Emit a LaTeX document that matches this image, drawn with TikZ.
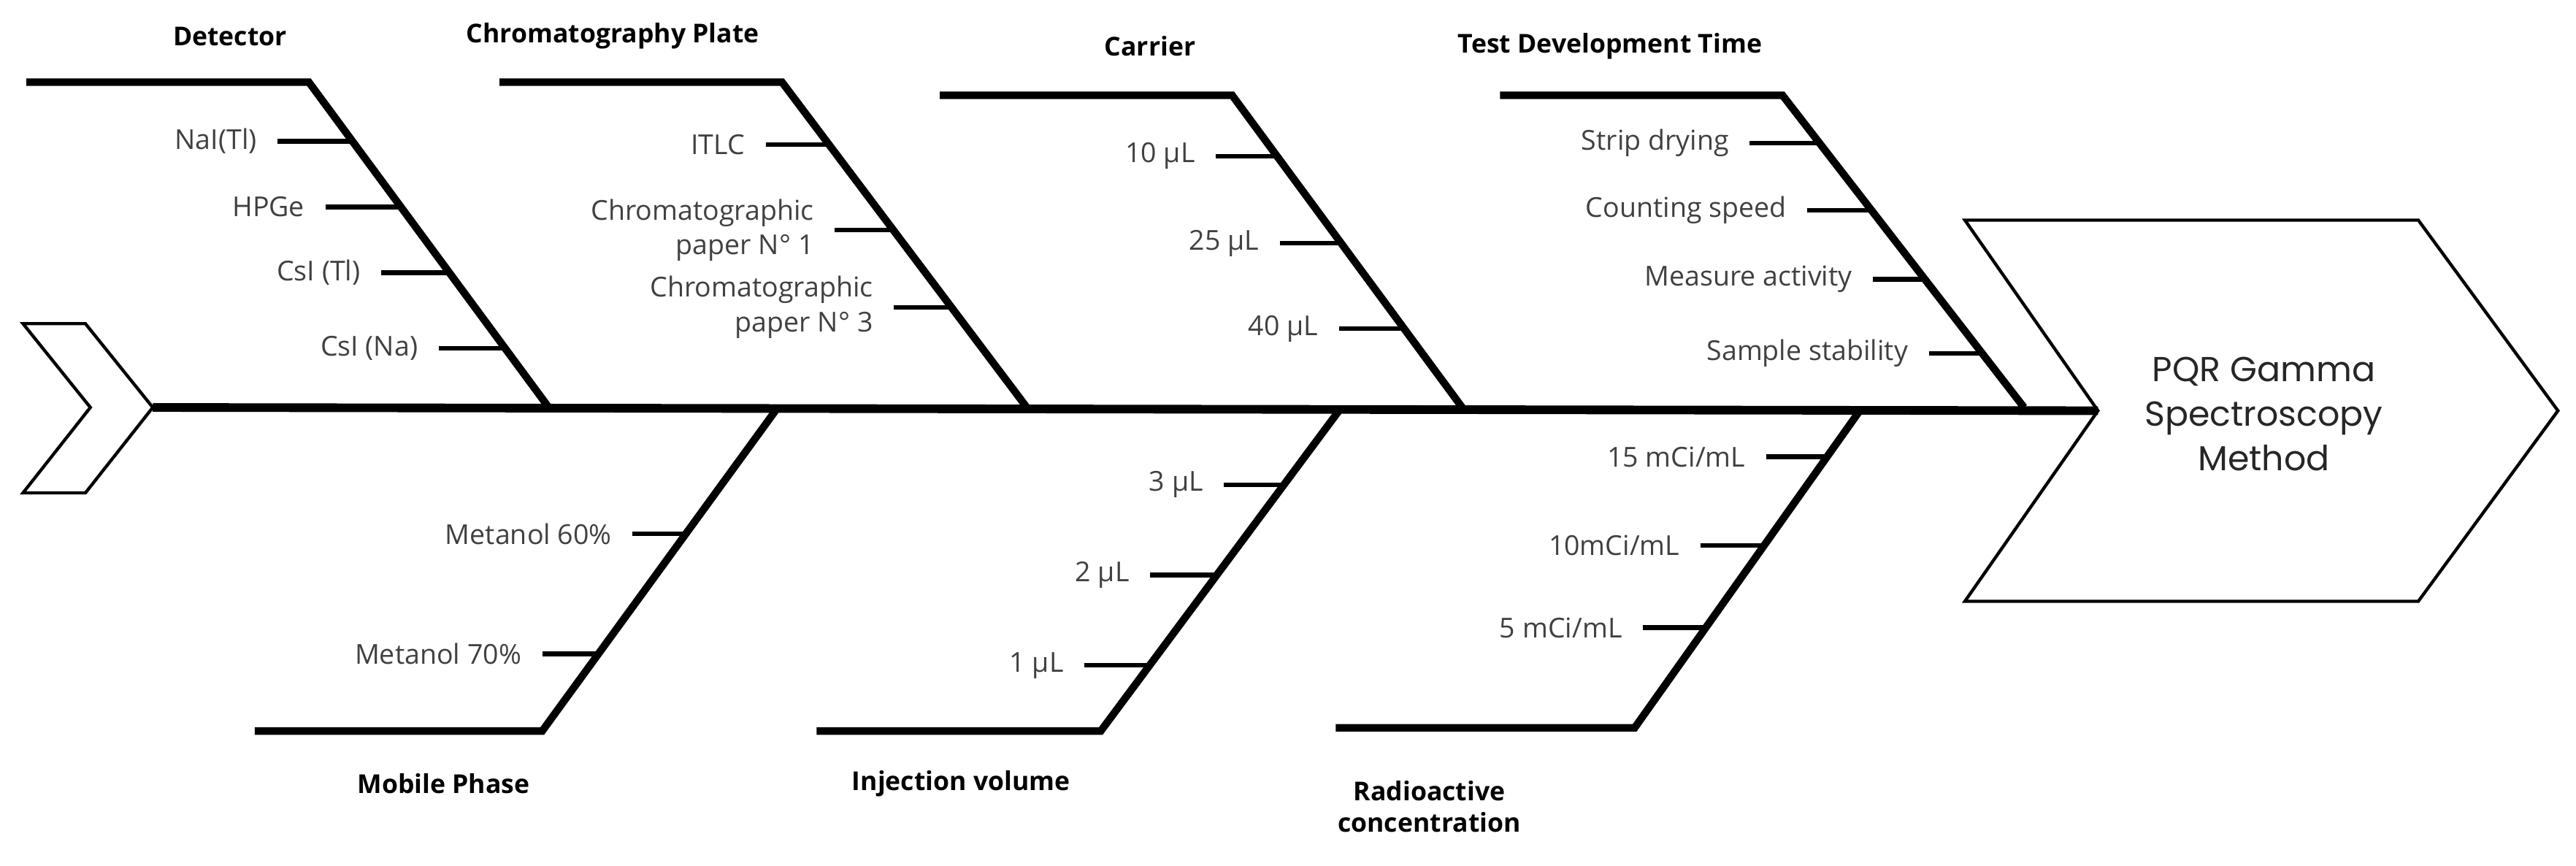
\documentclass[tikz,border=0pt]{standalone}
\usepackage{fontspec}
\setmainfont{Open Sans}
\newfontfamily\headfont{Poppins}
\begin{document}
\begin{tikzpicture}[x=0.02cm,y=-0.02cm,
  bone/.style={line width=2.6pt},
  spine/.style={line width=3pt},
  tk/.style={line width=1.6pt},
  chev/.style={line width=1.1pt,line join=miter},
  lab/.style={anchor=east,inner xsep=7pt,inner ysep=0pt,font=\fontsize{9.5}{12}\selectfont,text=black!75,align=right},
  ttl/.style={font=\bfseries\fontsize{9}{11}\selectfont,align=center}]
\useasboundingbox (0,0) rectangle (1568,527);
\newcommand\tck[5]{%
  \coordinate (#1d) at (#2,#3);
  \node[lab] (#1) at (#2-#4,#3) {#5};
  \draw[tk] (#1.east) -- (#1d);}
% chevrons
\coordinate (lt) at (93,248);
\coordinate (rn) at (1277,250);
\draw[chev] (14,197) -- (52,197) -- (lt) -- (52,300) -- (14,300) -- (55,248) -- cycle;
\draw[chev] (1196,134) -- (1472,134) -- (1557,250) -- (1472,366) -- (1196,366) -- (rn) -- cycle;
\node[font=\headfont\fontsize{12}{15.5}\selectfont,align=center,text=black!85] (eff) at (1378,252) {PQR Gamma\\Spectroscopy\\Method};
% spine
\draw[spine] (lt) -- (rn);
% Detector
\coordinate (d0) at (16,50); \coordinate (d1) at (188,50); \coordinate (d2) at (334,248);
\draw[bone,line join=miter] (d0) -- (d1) -- (d2);
\node[ttl] (dt) at (140,22) {Detector};
\tck{na}{214}{86}{45}{NaI(Tl)}
\tck{hp}{243}{126}{45}{HPGe}
\tck{ct}{272}{166}{40}{CsI (Tl)}
\tck{cn}{307}{212}{40}{CsI (Na)}
% Chromatography plate
\coordinate (c0) at (304,50); \coordinate (c1) at (476,50); \coordinate (c2) at (625,248);
\draw[bone,line join=miter] (c0) -- (c1) -- (c2);
\node[ttl] (ctt) at (373,22) {Chromatography Plate};
\tck{it}{503}{88}{37}{ITLC}
\tck{p1}{545}{140}{37}{Chromatographic\\paper N° 1}
\tck{p3}{579}{187}{35}{Chromatographic\\paper N° 3}
% Carrier
\coordinate (a0) at (572,58); \coordinate (a1) at (750,58); \coordinate (a2) at (890,248);
\draw[bone,line join=miter] (a0) -- (a1) -- (a2);
\node[ttl] (at) at (700,28) {Carrier};
\tck{ca}{777}{95}{37}{10 µL}
\tck{cb}{816}{148}{37}{25 µL}
\tck{cc}{855}{200}{40}{40 µL}
% Test development
\coordinate (t0) at (913,58); \coordinate (t1) at (1085,58); \coordinate (t2) at (1232,248);
\draw[bone,line join=miter] (t0) -- (t1) -- (t2);
\node[ttl] (tt) at (980,28) {Test Development Time};
\tck{sd}{1107}{87}{42}{Strip drying}
\tck{cs}{1139}{128}{39}{Counting speed}
\tck{ma}{1172}{170}{32}{Measure activity}
\tck{ss}{1206}{215}{32}{Sample stability}
% Mobile phase
\coordinate (m0) at (472,250); \coordinate (m1) at (330,445); \coordinate (m2) at (155,445);
\draw[bone,line join=miter] (m0) -- (m1) -- (m2);
\node[ttl] (mt) at (270,477) {Mobile Phase};
\tck{m6}{417}{325}{32}{Metanol 60\%}
\tck{m7}{364}{398}{34}{Metanol 70\%}
% Injection volume
\coordinate (i0) at (815,250); \coordinate (i1) at (670,445); \coordinate (i2) at (497,445);
\draw[bone,line join=miter] (i0) -- (i1) -- (i2);
\node[ttl] (itt) at (585,477) {Injection volume};
\tck{i3}{782}{295}{37}{3 µL}
\tck{i2l}{741}{350}{41}{2 µL}
\tck{i1l}{700}{405}{40}{1 µL}
% Radioactive concentration
\coordinate (r0) at (1132,250); \coordinate (r1) at (995,443); \coordinate (r2) at (813,443);
\draw[bone,line join=miter] (r0) -- (r1) -- (r2);
\node[ttl] (rt) at (870,491) {Radioactive\\concentration};
\tck{r15}{1112}{278}{37}{15 mCi/mL}
\tck{r10}{1074}{332}{39}{10mCi/mL}
\tck{r5}{1038}{382}{38}{5 mCi/mL}
\end{tikzpicture}
\end{document}
